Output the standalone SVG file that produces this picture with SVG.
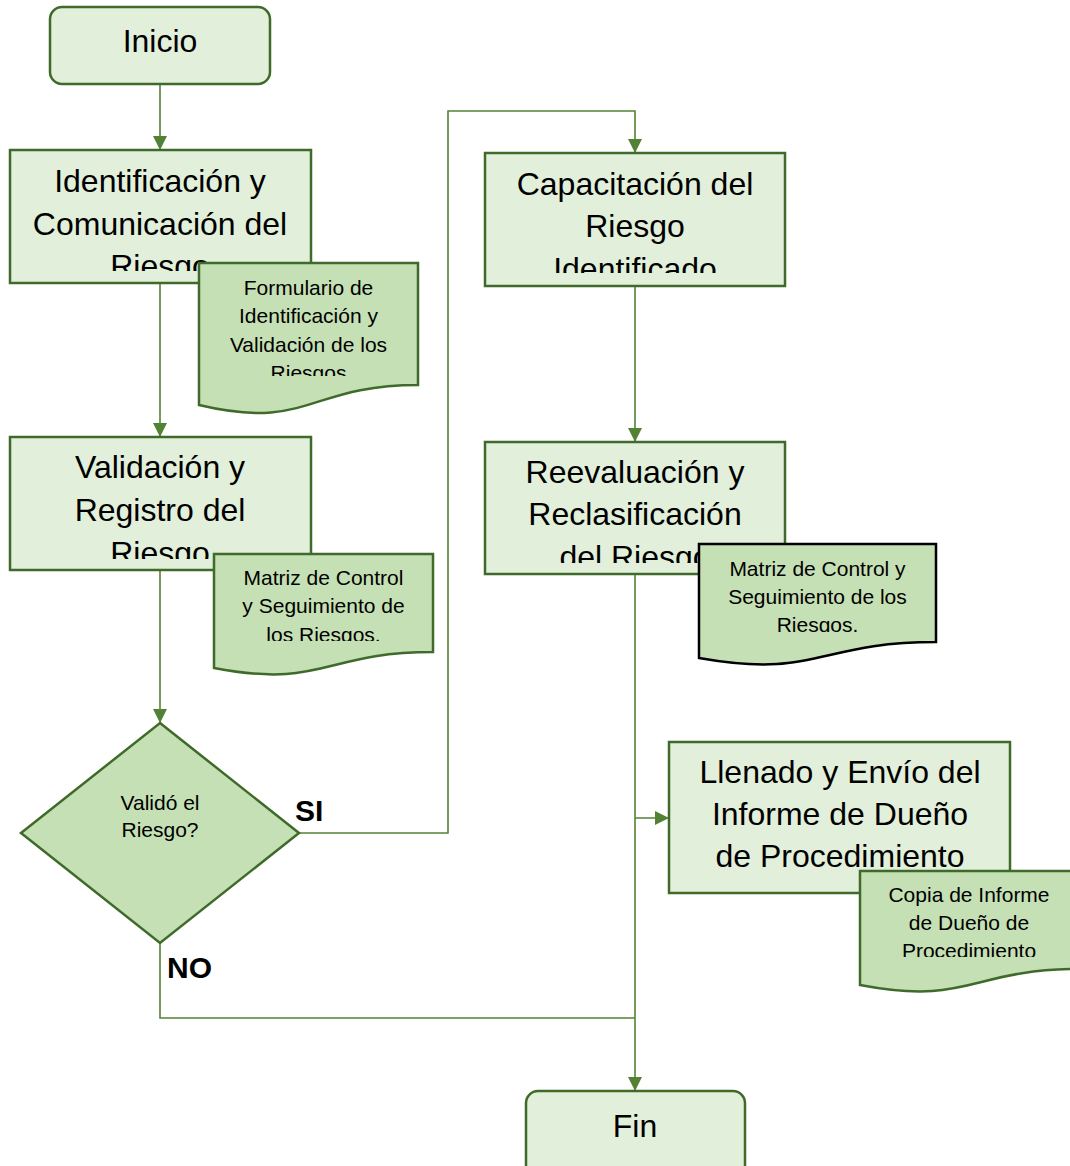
<svg xmlns="http://www.w3.org/2000/svg" width="1070" height="1166" viewBox="0 0 1070 1166">
  <style>
    .term { fill: #e2efda; stroke: #3f6a2a; stroke-width: 2.5; }
    .proc { fill: #e2efda; stroke: #3f6a2a; stroke-width: 2.5; }
    .doc { fill: #c5e0b4; stroke: #3f6a2a; stroke-width: 2.5; }
    .doc-dark { fill: #c5e0b4; stroke: #000000; stroke-width: 2.5; }
    .dec { fill: #c5e0b4; stroke: #3f6a2a; stroke-width: 2.5; }
    .edge { fill: none; stroke: #548235; stroke-width: 1.6; }
    .big { font-family: "Liberation Sans", Arial, sans-serif; font-size: 32px; fill: #000; text-anchor: middle; }
    .small { font-family: "Liberation Sans", Arial, sans-serif; font-size: 21px; fill: #000; text-anchor: middle; }
    .lbl { font-family: "Liberation Sans", Arial, sans-serif; font-size: 30px; font-weight: bold; fill: #000; }
  </style>
  <defs>
    <marker id="arrow" markerUnits="userSpaceOnUse" viewBox="0 0 14 14" refX="14" refY="7" markerWidth="14" markerHeight="14" orient="auto">
      <path d="M0,0 L14,7 L0,14 z" fill="#548235"/>
    </marker>
    <!-- text areas: long labels are cut off at the bottom of each shape -->
    <clipPath id="c-ident"><rect x="10" y="150" width="301" height="121"/></clipPath>
    <clipPath id="c-valid"><rect x="10" y="437" width="301" height="122"/></clipPath>
    <clipPath id="c-capac"><rect x="485" y="153" width="301" height="120"/></clipPath>
    <clipPath id="c-reev"><rect x="485" y="442" width="301" height="121"/></clipPath>
    <clipPath id="c-llen"><rect x="669" y="742" width="341" height="140"/></clipPath>
    <clipPath id="c-doc1"><rect x="199" y="263" width="219" height="113"/></clipPath>
    <clipPath id="c-doc2"><rect x="214" y="554" width="219" height="87"/></clipPath>
    <clipPath id="c-doc4"><rect x="699" y="544" width="237" height="88"/></clipPath>
    <clipPath id="c-doc5"><rect x="860" y="871" width="220" height="86"/></clipPath>
  </defs>

  <g id="connectors">
    <line class="edge" x1="160" y1="85" x2="160" y2="150" marker-end="url(#arrow)"/>
    <line class="edge" x1="160" y1="284" x2="160" y2="437" marker-end="url(#arrow)"/>
    <line class="edge" x1="160" y1="570" x2="160" y2="723" marker-end="url(#arrow)"/>
    <polyline class="edge" points="299,833 448,833 448,111 635,111 635,153" marker-end="url(#arrow)"/>
    <line class="edge" x1="635" y1="286" x2="635" y2="442" marker-end="url(#arrow)"/>
    <line class="edge" x1="635" y1="575" x2="635" y2="1091" marker-end="url(#arrow)"/>
    <line class="edge" x1="635" y1="818" x2="669" y2="818" marker-end="url(#arrow)"/>
    <polyline class="edge" points="160,943 160,1018 635,1018"/>
    <text class="lbl" x="295" y="821">SI</text>
    <text class="lbl" x="167" y="978">NO</text>
  </g>

  <g id="inicio">
    <rect class="term" x="50" y="7" width="220" height="77" rx="12"/>
    <text class="big" x="160" y="52">Inicio</text>
  </g>

  <g id="identificacion">
    <rect class="proc" x="10" y="150" width="301" height="133"/>
    <g clip-path="url(#c-ident)">
      <text class="big" x="160" y="192">Identificación y</text>
      <text class="big" x="160" y="235">Comunicación del</text>
      <text class="big" x="160" y="277">Riesgo</text>
    </g>
  </g>

  <g id="formulario">
    <path class="doc" d="M199,263 H418 V385 C308.5,385 308.5,431 199,405 Z"/>
    <g clip-path="url(#c-doc1)">
      <text class="small" x="308.5" y="295">Formulario de</text>
      <text class="small" x="308.5" y="323">Identificación y</text>
      <text class="small" x="308.5" y="352">Validación de los</text>
      <text class="small" x="308.5" y="380">Riesgos</text>
    </g>
  </g>

  <g id="validacion">
    <rect class="proc" x="10" y="437" width="301" height="133"/>
    <g clip-path="url(#c-valid)">
      <text class="big" x="160" y="478">Validación y</text>
      <text class="big" x="160" y="521">Registro del</text>
      <text class="big" x="160" y="564">Riesgo</text>
    </g>
  </g>

  <g id="matriz1">
    <path class="doc" d="M214,554 H433 V652 C323.5,652 323.5,689 214,668 Z"/>
    <g clip-path="url(#c-doc2)">
      <text class="small" x="323.5" y="585">Matriz de Control</text>
      <text class="small" x="323.5" y="613">y Seguimiento de</text>
      <text class="small" x="323.5" y="642">los Riesgos.</text>
    </g>
  </g>

  <g id="decision">
    <polygon class="dec" points="160,723 299,833 160,943 21,833"/>
    <text class="small" x="160" y="810">Validó el</text>
    <text class="small" x="160" y="837">Riesgo?</text>
  </g>

  <g id="capacitacion">
    <rect class="proc" x="485" y="153" width="300" height="133"/>
    <g clip-path="url(#c-capac)">
      <text class="big" x="635" y="195">Capacitación del</text>
      <text class="big" x="635" y="237">Riesgo</text>
      <text class="big" x="635" y="280">Identificado</text>
    </g>
  </g>

  <g id="reevaluacion">
    <rect class="proc" x="485" y="442" width="300" height="132"/>
    <g clip-path="url(#c-reev)">
      <text class="big" x="635" y="483">Reevaluación y</text>
      <text class="big" x="635" y="525">Reclasificación</text>
      <text class="big" x="635" y="568">del Riesgo</text>
    </g>
  </g>

  <g id="matriz2">
    <path class="doc-dark" d="M699,544 H936 V642 C817.5,642 817.5,679 699,658 Z"/>
    <g clip-path="url(#c-doc4)">
      <text class="small" x="817.5" y="576">Matriz de Control y</text>
      <text class="small" x="817.5" y="604">Seguimiento de los</text>
      <text class="small" x="817.5" y="632">Riesgos.</text>
    </g>
  </g>

  <g id="llenado">
    <rect class="proc" x="669" y="742" width="341" height="151"/>
    <g clip-path="url(#c-llen)">
      <text class="big" x="840" y="783">Llenado y Envío del</text>
      <text class="big" x="840" y="825">Informe de Dueño</text>
      <text class="big" x="840" y="867">de Procedimiento</text>
    </g>
  </g>

  <g id="copia">
    <path class="doc" d="M860,871 H1080 V969 C970,969 970,1006 860,985 Z"/>
    <g clip-path="url(#c-doc5)">
      <text class="small" x="969" y="902">Copia de Informe</text>
      <text class="small" x="969" y="930">de Dueño de</text>
      <text class="small" x="969" y="958">Procedimiento</text>
    </g>
  </g>

  <g id="fin">
    <rect class="term" x="526" y="1091" width="219" height="90" rx="12"/>
    <text class="big" x="635" y="1137">Fin</text>
  </g>
</svg>
